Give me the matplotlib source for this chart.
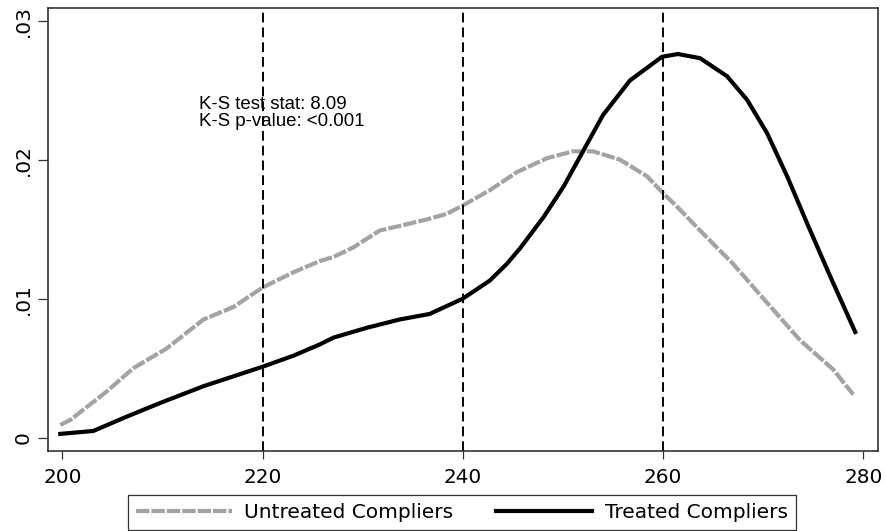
import numpy as np
import matplotlib.pyplot as plt

plt.rcParams['font.family'] = ['DejaVu Sans']

# kernel density curves
x_untr = [199.8, 200.8, 202.8, 204.4, 207.1, 210.4, 214.1, 217.1, 220.0, 223.1, 225.7, 227.1, 229.1,
          231.7, 234.1, 236.4, 238.4, 240.0, 242.7, 245.4, 248.4, 251.0, 253.0, 255.7, 258.4, 260.0,
          261.7, 263.7, 267.0, 270.4, 273.7, 277.0, 279.0]
y_untr = [0.00091, 0.00127, 0.0024, 0.0033, 0.0050, 0.0064, 0.0085, 0.0094, 0.0108, 0.0119, 0.0127, 0.0130, 0.0137,
          0.0149, 0.0153, 0.0157, 0.0161, 0.0167, 0.0178, 0.0191, 0.0201, 0.0206, 0.0206, 0.0200, 0.0188, 0.0176,
          0.0164, 0.0149, 0.0125, 0.0097, 0.0070, 0.0049, 0.0031]

x_tr = [199.8, 203.1, 206.4, 209.8, 214.1, 220.0, 223.1, 225.7, 227.1, 230.4, 233.7, 236.7, 240.0, 242.7,
        244.4, 245.7, 248.1, 250.1, 251.7, 254.0, 256.7, 259.9, 261.5, 263.7, 266.4, 268.4, 270.4, 272.4,
        274.4, 276.7, 279.2]
y_tr = [0.00027, 0.00048, 0.0015, 0.0025, 0.0037, 0.0051, 0.0059, 0.0067, 0.0072, 0.0079, 0.0085, 0.0089, 0.0100, 0.0113,
        0.0125, 0.0136, 0.0159, 0.0181, 0.0202, 0.0232, 0.0257, 0.0274, 0.0276, 0.0273, 0.0260, 0.0243, 0.0219, 0.0188,
        0.0154, 0.0116, 0.0076]

vlines = [220, 240, 260]
ks_lines = ["K-S test stat: 8.09", "K-S p-value: <0.001"]

fig = plt.figure(figsize=(8.86, 5.31), dpi=100)
ax = fig.add_axes([0.0538, 0.1507, 0.9368, 0.8337])

ax.plot(x_untr, y_untr, color='#a3a3a3', lw=3.0, dashes=(3.2, 0.5), label='Untreated Compliers')
ax.plot(x_tr, y_tr, color='black', lw=3.0, label='Treated Compliers')
for v in vlines:
    ax.axvline(v, color='black', lw=1.4, ls=(0, (5, 2.6)))

# two separate lines, spacing in the original is tight
ax.text(213.7, 0.02365, ks_lines[0], fontsize=13.4, family='Liberation Sans', va='baseline', ha='left')
ax.text(213.7, 0.02245, ks_lines[1], fontsize=13.4, family='Liberation Sans', va='baseline', ha='left')

ax.set_xlim(198.54, 281.44)
ax.set_ylim(-0.00096, 0.03089)
ax.set_xticks([200, 220, 240, 260, 280])
ax.set_yticks([0, 0.01, 0.02, 0.03])
ax.set_yticklabels(['0', '.01', '.02', '.03'], rotation=90, va='center')
ax.tick_params(axis='x', labelsize=14.4, length=6, width=0.9, pad=6, color='#333333')
ax.tick_params(axis='y', labelsize=14.4, length=7, width=0.9, pad=4, color='#333333')
for s in ax.spines.values():
    s.set_linewidth(1.1)
    s.set_color('#222222')

leg = fig.legend(loc='upper center', bbox_to_anchor=(0.521, 0.0678), ncol=2, fontsize=14.5,
                 frameon=True, fancybox=False, handlelength=4.8, handletextpad=0.6,
                 columnspacing=2.1, borderpad=0.4, borderaxespad=0,
                 edgecolor='#333333', framealpha=1)
leg.get_frame().set_linewidth(0.9)

fig.savefig('out.png', dpi=100)
